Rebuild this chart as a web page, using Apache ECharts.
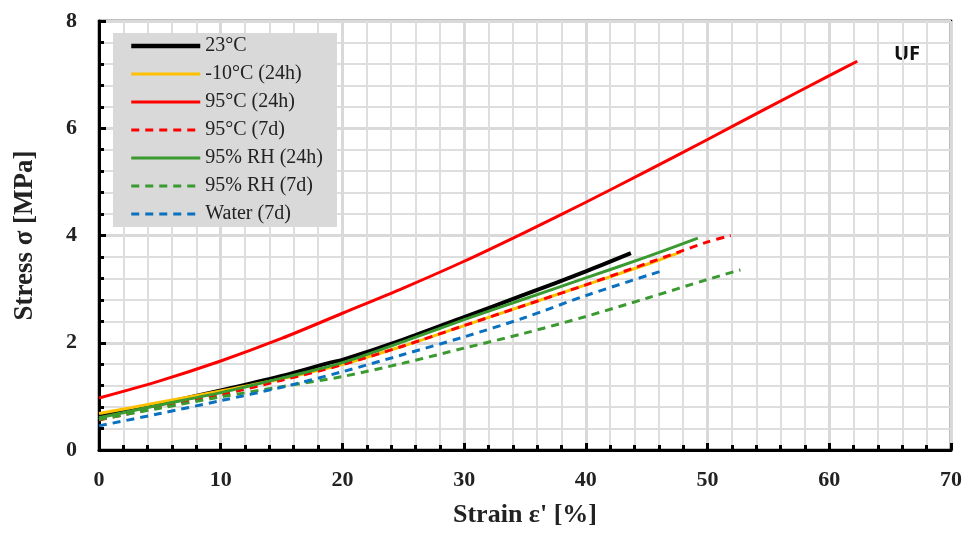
<!DOCTYPE html>
<html>
<head>
<meta charset="utf-8">
<script src="https://cdn.jsdelivr.net/npm/echarts@6/dist/echarts.min.js"></script>
<style>html,body{margin:0;padding:0;background:#fff}#c{width:967px;height:536px}</style>
</head>
<body>
<div id="c"></div>
<script>
const seriesNames = ['23°C', '-10°C (24h)', '95°C (24h)', '95°C (7d)', '95% RH (24h)', '95% RH (7d)', 'Water (7d)'];

const strain23 = [0, 5, 10, 15, 19, 20, 25, 30, 35, 40, 43.7];
const stress23 = [0.63, 0.86, 1.11, 1.38, 1.63, 1.68, 2.06, 2.48, 2.90, 3.33, 3.67];

const strainM10 = [0, 5, 10, 15, 20, 25, 30, 35, 40, 45, 47.8];
const stressM10 = [0.68, 0.89, 1.10, 1.33, 1.60, 1.94, 2.32, 2.70, 3.08, 3.46, 3.69];

const strain95d1 = [0, 5, 10, 15, 20, 25, 30, 35, 40, 45, 50, 55, 60, 62.3];
const stress95d1 = [0.97, 1.29, 1.66, 2.08, 2.55, 3.02, 3.52, 4.06, 4.62, 5.20, 5.79, 6.39, 6.98, 7.25];

const strain95d7 = [0, 5, 10, 15, 20, 25, 30, 35, 40, 45, 50, 51.9];
const stress95d7 = [0.56, 0.80, 1.03, 1.30, 1.59, 1.94, 2.32, 2.70, 3.08, 3.48, 3.88, 4.00];

const strainRH1 = [0, 5, 10, 15, 20, 25, 30, 35, 40, 45, 49.2];
const stressRH1 = [0.60, 0.84, 1.07, 1.34, 1.63, 2.02, 2.43, 2.82, 3.21, 3.60, 3.95];

const strainRH7 = [0, 5, 10, 15, 20, 25, 30, 35, 40, 45, 50, 52.7];
const stressRH7 = [0.57, 0.78, 0.99, 1.18, 1.37, 1.62, 1.90, 2.18, 2.49, 2.83, 3.18, 3.36];

const strainW7 = [0, 5, 10, 15, 20, 25, 30, 35, 40, 46.1];
const stressW7 = [0.45, 0.68, 0.92, 1.17, 1.46, 1.78, 2.11, 2.47, 2.88, 3.33];

const xTicks = [0, 10, 20, 30, 40, 50, 60, 70];
const yTicks = [0, 2, 4, 6, 8];

function pairs(xs, ys) { return xs.map((x, i) => [x, ys[i]]); }

const defs = [
  { x: strain23, y: stress23, color: '#000000', width: 4, type: 'solid' },
  { x: strainM10, y: stressM10, color: '#FFC000', width: 3, type: 'solid' },
  { x: strain95d1, y: stress95d1, color: '#FF0000', width: 3, type: 'solid' },
  { x: strain95d7, y: stress95d7, color: '#FF0000', width: 3, type: [8, 6] },
  { x: strainRH1, y: stressRH1, color: '#3A9A2F', width: 3, type: 'solid' },
  { x: strainRH7, y: stressRH7, color: '#3A9A2F', width: 3, type: [8, 6] },
  { x: strainW7, y: stressW7, color: '#0A70C0', width: 3, type: [8, 6] }
];

const serif = '"Liberation Serif", "DejaVu Serif", serif';

const chart = echarts.init(document.getElementById('c'), null, { renderer: 'canvas' });
chart.setOption({
  animation: false,
  backgroundColor: '#ffffff',
  grid: { left: 99, right: 16, top: 21, bottom: 86, show: true, borderColor: '#000', borderWidth: 2.5, backgroundColor: 'transparent' },
  legend: {
    orient: 'vertical',
    left: 113, top: 33,
    padding: [3, 14, 3, 16],
    backgroundColor: '#d9d9d9',
    itemWidth: 69, itemHeight: 14, itemGap: 8,
    itemStyle: { color: 'rgba(0,0,0,0)', borderWidth: 0, opacity: 0 },
    textStyle: { fontFamily: serif, fontSize: 20, color: '#222', lineHeight: 20 },
    data: seriesNames.map((n, i) => ({
      name: n,
      lineStyle: { width: i === 0 ? 4.5 : 3.2, color: defs[i].color, type: defs[i].type }
    }))
  },
  xAxis: {
    type: 'value', min: 0, max: 70, interval: 10,
    name: "Strain ε' [%]", nameLocation: 'middle', nameGap: 52,
    nameTextStyle: { fontFamily: serif, fontSize: 26, fontWeight: 'bold', color: '#222' },
    axisLine: { lineStyle: { color: '#000', width: 3 } },
    axisTick: { inside: true, length: 7, lineStyle: { color: '#000', width: 3 } },
    minorTick: { show: true, splitNumber: 5, length: 5, lineStyle: { color: '#000', width: 3 } },
    axisLabel: { fontFamily: serif, fontSize: 22, fontWeight: 'bold', color: '#222', margin: 19,
      formatter: v => xTicks.includes(v) ? String(v) : '' },
    splitLine: { show: true, lineStyle: { color: '#d9d9d9', width: 3 } },
    minorSplitLine: { show: true, lineStyle: { color: '#dedede', width: 2 } }
  },
  yAxis: {
    type: 'value', min: 0, max: 8, interval: 2,
    name: 'Stress σ [MPa]', nameLocation: 'middle', nameGap: 60, nameRotate: 90,
    nameTextStyle: { fontFamily: serif, fontSize: 27, fontWeight: 'bold', color: '#222' },
    axisLine: { lineStyle: { color: '#000', width: 3 } },
    axisTick: { inside: true, length: 7, lineStyle: { color: '#000', width: 3 } },
    minorTick: { show: true, splitNumber: 5, length: 5, lineStyle: { color: '#000', width: 3 } },
    axisLabel: { fontFamily: serif, fontSize: 22, fontWeight: 'bold', color: '#222', margin: 22,
      formatter: v => yTicks.includes(v) ? String(v) : '' },
    splitLine: { show: true, lineStyle: { color: '#d9d9d9', width: 3 } },
    minorSplitLine: { show: true, lineStyle: { color: '#dedede', width: 2 } }
  },
  graphic: [{
    type: 'text', left: 894, top: 44,
    style: { text: 'UF', fontFamily: '"Open Sans", "Noto Sans", sans-serif', fontWeight: 'bold', fontSize: 20, fill: '#111' }
  }],
  series: defs.map((d, i) => ({
    name: seriesNames[i],
    type: 'line',
    data: pairs(d.x, d.y),
    smooth: 0.3,
    symbol: 'none',
    lineStyle: { color: d.color, width: d.width, type: d.type },
    itemStyle: { color: d.color },
    z: 2 + i
  }))
});
</script>
</body>
</html>
